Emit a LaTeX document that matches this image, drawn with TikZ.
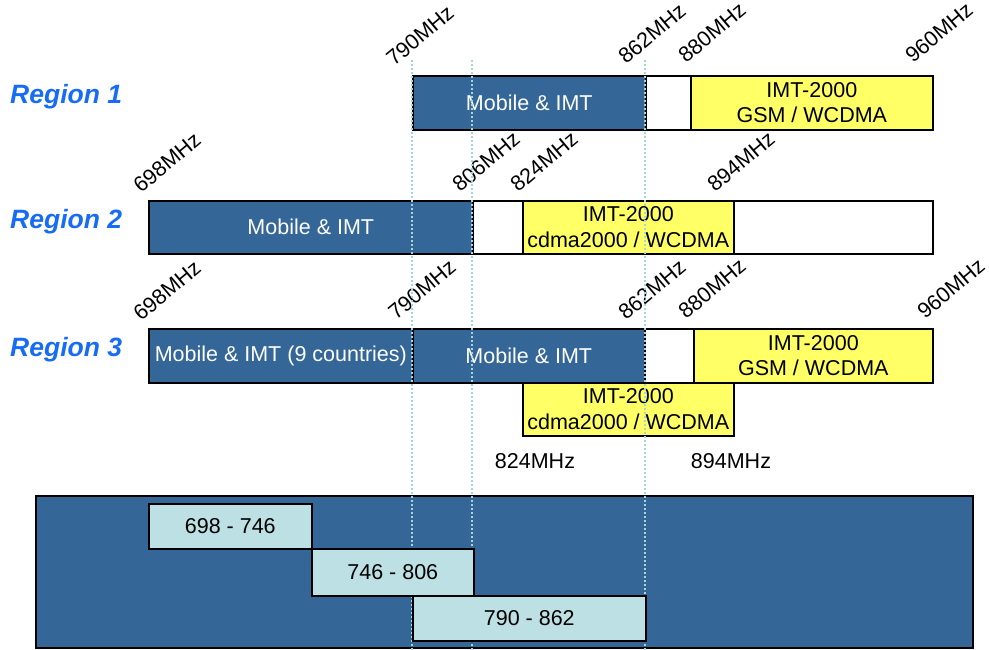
\documentclass[tikz,border=0pt]{standalone}
\usepackage{fontspec}
\setmainfont{Liberation Sans}
\definecolor{bandblue}{RGB}{52,102,152}
\definecolor{bandyellow}{RGB}{255,255,102}
\definecolor{bandcyan}{RGB}{188,224,227}
\definecolor{guidecol}{RGB}{165,214,218}
\definecolor{regblue}{RGB}{22,108,245}
\tikzset{
  band/.style={draw=black, line width=1.6pt, rectangle, anchor=north west, inner sep=0pt, align=center,
    font=\fontsize{21.5}{25.5}\selectfont},
  blueband/.style={band, fill=bandblue, text=white},
  whiteband/.style={band, fill=white},
  yellowband/.style={band, fill=bandyellow, text=black},
  cyanbox/.style={band, fill=bandcyan, text=black},
  freq/.style={anchor=base west, inner sep=0pt, rotate=40, font=\fontsize{21.5}{24}\selectfont},
  flabel/.style={inner sep=0pt, font=\fontsize{21.5}{24}\selectfont},
  region/.style={anchor=west, inner sep=0pt, text=regblue, font=\fontsize{26.5}{30}\selectfont\bfseries\itshape},
  guide/.style={draw=guidecol, line width=1.1pt, dash pattern=on 2pt off 2pt},
}
\begin{document}
\begin{tikzpicture}[x=1pt,y=-1pt]
\useasboundingbox (0,0) rectangle (989,650);
% Region labels
\node[region] (reg1) at (10,97) {Region 1};
\node[region] (reg2) at (10,222) {Region 2};
\node[region] (reg3) at (10,350) {Region 3};
% Region 1
\node[blueband, minimum width=233, minimum height=54] (r1a) at (412,75) {Mobile \& IMT};
\node[whiteband, minimum width=45, minimum height=54] (r1b) at (645,75) {};
\node[yellowband, minimum width=242, minimum height=54] (r1c) at (690,75) {IMT-2000\\GSM / WCDMA};
\node[freq] (f1a) at (394,67) {790MHz};
\node[freq] (f1b) at (626,65) {862MHz};
\node[freq] (f1c) at (686,64) {880MHz};
\node[freq] (f1d) at (913,64) {960MHz};
% Region 2
\node[blueband, minimum width=324, minimum height=53] (r2a) at (148,200) {Mobile \& IMT};
\node[whiteband, minimum width=50, minimum height=53] (r2b) at (472,200) {};
\node[whiteband, minimum width=199, minimum height=53] (r2d) at (733,200) {};
\node[yellowband, minimum width=211, minimum height=53] (r2c) at (522,200) {IMT-2000\\cdma2000 / WCDMA};
\node[freq] (f2a) at (141,194) {698MHz};
\node[freq] (f2b) at (460,193) {806MHz};
\node[freq] (f2c) at (518,193) {824MHz};
\node[freq] (f2d) at (715,193) {894MHz};
% Region 3
\node[blueband, minimum width=264, minimum height=54] (r3a) at (148,328) {Mobile \& IMT (9 countries)};
\node[blueband, minimum width=232, minimum height=54] (r3b) at (412,328) {Mobile \& IMT};
\node[whiteband, minimum width=49, minimum height=54] (r3c) at (644,328) {};
\node[yellowband, minimum width=239, minimum height=54] (r3d) at (693,328) {IMT-2000\\GSM / WCDMA};
\node[yellowband, minimum width=211, minimum height=53] (r3e) at (522,382) {IMT-2000\\cdma2000 / WCDMA};
\node[freq] (f3a) at (141,322) {698MHz};
\node[freq] (f3b) at (396,321) {790MHz};
\node[freq] (f3c) at (626,321) {862MHz};
\node[freq] (f3d) at (686,320) {880MHz};
\node[freq] (f3e) at (925,320) {960MHz};
\node[flabel] (l824) at (535,461) {824MHz};
\node[flabel] (l894) at (731,461) {894MHz};
% Bottom panel
\node[band, fill=bandblue, minimum width=937, minimum height=152] (panel) at (35,495) {};
% Guide lines (over the bands and panel, under the bottom boxes)
\coordinate (g1t) at (412,60); \coordinate (g1b) at (412,650);
\coordinate (g2t) at (472,60); \coordinate (g2b) at (472,650);
\coordinate (g3t) at (645,60); \coordinate (g3b) at (645,650);
\draw[guide] (g1t) -- (g1b);
\draw[guide] (g2t) -- (g2b);
\draw[guide] (g3t) -- (g3b);
% Bottom boxes
\node[cyanbox, minimum width=163, minimum height=45] (b1) at (148,503) {698 - 746};
\node[cyanbox, minimum width=162, minimum height=47] (b2) at (311,548) {746 - 806};
\node[cyanbox, minimum width=233, minimum height=45] (b3) at (412,595) {790 - 862};
\end{tikzpicture}
\end{document}
